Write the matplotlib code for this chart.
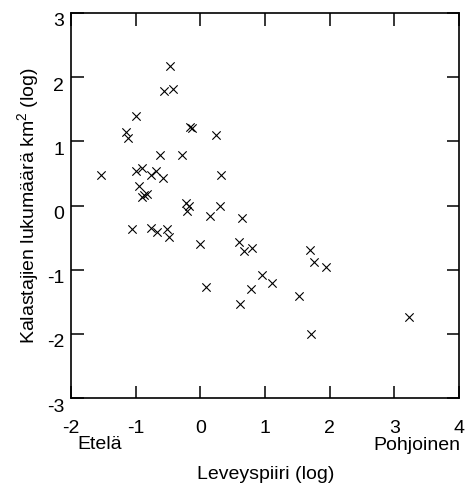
import matplotlib
matplotlib.use("Agg")
import matplotlib.pyplot as plt
import matplotlib.transforms as mtransforms

plt.rcParams['font.family'] = ['Liberation Sans', 'DejaVu Sans']
plt.rcParams['mathtext.fontset'] = 'custom'
plt.rcParams['mathtext.rm'] = 'Liberation Sans'
plt.rcParams['mathtext.it'] = 'Liberation Sans'
plt.rcParams['axes.unicode_minus'] = False

# leveyspiiri (log) ja kalastajien lukumaara (log)
lat = [-1.53, -1.15, -1.12, -1.00, -0.475, -0.56, -0.43, -0.155, -0.135, 0.24,
       -0.62, -0.29, 0.32, -1.00, -0.90, -0.76, -0.68, -0.58, -0.95, -0.90,
       -0.87, -0.83, -0.22, -0.17, -0.21, 0.30, 0.155, 0.645, -1.05, -0.76,
       -0.67, -0.51, -0.48, 0.00, 0.60, 0.68, 0.80, 0.09, 0.62, 0.785,
       0.96, 1.11, 1.69, 1.75, 1.95, 1.52, 1.71, 3.23]
fishers = [0.47, 1.14, 1.05, 1.40, 2.18, 1.79, 1.81, 1.23, 1.21, 1.10,
           0.79, 0.79, 0.47, 0.53, 0.58, 0.48, 0.54, 0.43, 0.31, 0.14,
           0.17, 0.18, 0.04, -0.01, -0.08, 0.00, -0.17, -0.20, -0.36, -0.35,
           -0.42, -0.36, -0.49, -0.60, -0.57, -0.71, -0.67, -1.27, -1.53, -1.30,
           -1.09, -1.21, -0.70, -0.88, -0.96, -1.41, -2.01, -1.73]

xticks = [-2, -1, 0, 1, 2, 3, 4]
yticks = [-3, -2, -1, 0, 1, 2, 3]

W, H = 465, 488
fig = plt.figure(figsize=(W / 100, H / 100), dpi=100)
ax = fig.add_axes([71 / W, 1 - 398 / H, (459 - 71) / W, (398 - 13) / H])

ax.scatter(lat, fishers, marker='x', s=36, c='black', linewidths=0.8)

ax.set_xlim(-2, 4)
ax.set_ylim(-3, 3)
ax.set_xticks(xticks)
ax.set_yticks(yticks)
ax.tick_params(direction='in', length=9, width=1.1, top=True, right=True,
               labelsize=14, colors='black')
ax.tick_params(axis='x', pad=16)
ax.tick_params(axis='y', pad=5)
for sp in ax.spines.values():
    sp.set_linewidth(1.2)

# y tick labels sit a bit below their ticks in the original
off = mtransforms.ScaledTranslation(0, -7 / 100, fig.dpi_scale_trans)
for lab in ax.get_yticklabels():
    lab.set_transform(lab.get_transform() + off)

ax.set_ylabel(r'Kalastajien lukumäärä km$^{\mathrm{2}}$ (log)', fontsize=14, labelpad=4)

fig.text(77 / W, 1 - 449 / H, 'Etelä', ha='left', va='baseline', fontsize=14)
fig.text(460 / W, 1 - 450 / H, 'Pohjoinen', ha='right', va='baseline', fontsize=14)
fig.text(266 / W, 1 - 479 / H, 'Leveyspiiri (log)', ha='center', va='baseline', fontsize=14)

fig.savefig('out.png', dpi=100)
